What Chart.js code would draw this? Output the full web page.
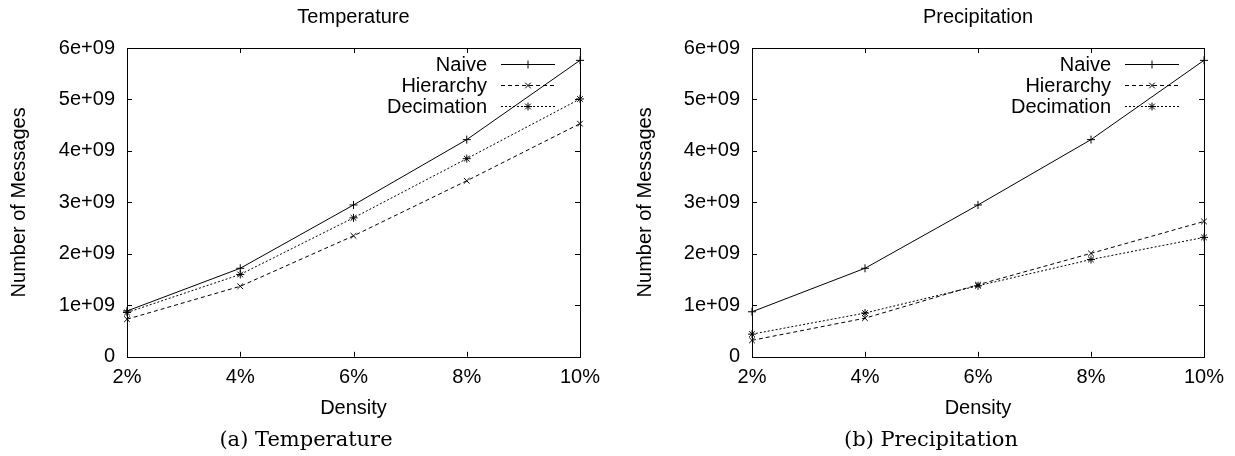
<!DOCTYPE html>
<html><head><meta charset="utf-8">
<script src="https://cdn.jsdelivr.net/npm/chart.js@4/dist/chart.umd.min.js"></script>
<style>
html,body{margin:0;padding:0;background:#fff;width:1235px;height:456px;overflow:hidden;}
canvas{position:absolute;top:0;}
</style></head>
<body>
<canvas id="c1" width="615" height="456" style="left:0px"></canvas>
<canvas id="c2" width="620" height="456" style="left:615px"></canvas>
<script>
const categories = ['2%', '4%', '6%', '8%', '10%'];
const seriesNames = ['Naive', 'Hierarchy', 'Decimation'];
const yTickLabels = ['0', '1e+09', '2e+09', '3e+09', '4e+09', '5e+09', '6e+09'];

const tempNaive      = [0.89e9, 1.72e9, 2.95e9, 4.22e9, 5.76e9];
const tempHierarchy  = [0.73e9, 1.37e9, 2.35e9, 3.42e9, 4.53e9];
const tempDecimation = [0.86e9, 1.60e9, 2.70e9, 3.85e9, 5.01e9];

const precNaive      = [0.875e9, 1.72e9, 2.95e9, 4.22e9, 5.76e9];
const precHierarchy  = [0.32e9, 0.75e9, 1.40e9, 2.01e9, 2.63e9];
const precDecimation = [0.44e9, 0.85e9, 1.38e9, 1.89e9, 2.32e9];

const SANS = '"Liberation Sans", Arial, Helvetica, sans-serif';
const SERIF = '"DejaVu Serif", "Liberation Serif", serif';
const FS = 20;
const styles = [
  {pointStyle: 'cross', dash: []},
  {pointStyle: 'crossRot', dash: [4, 3]},
  {pointStyle: 'star', dash: [2, 2]}
];

function drawMarker(ctx, style, x, y, r) {
  ctx.beginPath();
  if (style === 'cross' || style === 'star') {
    ctx.moveTo(x - r, y); ctx.lineTo(x + r, y);
    ctx.moveTo(x, y - r); ctx.lineTo(x, y + r);
  }
  if (style === 'crossRot' || style === 'star') {
    const d = r * Math.SQRT1_2;
    ctx.moveTo(x - d, y - d); ctx.lineTo(x + d, y + d);
    ctx.moveTo(x - d, y + d); ctx.lineTo(x + d, y - d);
  }
  ctx.stroke();
}

const framePlugin = {
  id: 'frame',
  beforeDatasetsDraw(chart) {
    const {ctx, chartArea: a, scales} = chart;
    ctx.save();
    ctx.strokeStyle = '#000';
    ctx.lineWidth = 1;
    ctx.setLineDash([]);
    ctx.strokeRect(Math.round(a.left) + 0.5, Math.round(a.top) + 0.5,
                   Math.round(a.right - a.left), Math.round(a.bottom - a.top));
    const tl = 5;
    ctx.beginPath();
    scales.y.ticks.forEach((t, i) => {
      const py = Math.round(scales.y.getPixelForTick(i)) + 0.5;
      ctx.moveTo(a.left, py); ctx.lineTo(a.left + tl, py);
      ctx.moveTo(a.right, py); ctx.lineTo(a.right - tl, py);
    });
    scales.x.ticks.forEach((t, i) => {
      const px = Math.round(scales.x.getPixelForTick(i)) + 0.5;
      ctx.moveTo(px, a.bottom); ctx.lineTo(px, a.bottom - tl);
      ctx.moveTo(px, a.top); ctx.lineTo(px, a.top + tl);
    });
    ctx.stroke();
    ctx.restore();
  }
};

const keyPlugin = {
  id: 'key',
  afterDraw(chart) {
    const {ctx, chartArea: a} = chart;
    ctx.save();
    ctx.font = FS + 'px ' + SANS;
    ctx.fillStyle = '#000';
    ctx.strokeStyle = '#000';
    ctx.lineWidth = 1;
    ctx.textAlign = 'right';
    ctx.textBaseline = 'middle';
    chart.data.datasets.forEach((ds, i) => {
      const y = Math.round(a.top + 16 + i * 21) + 0.5;
      ctx.fillText(ds.label, a.right - 93, y + 1);
      ctx.setLineDash(ds.borderDash || []);
      ctx.beginPath();
      ctx.moveTo(a.right - 79, y); ctx.lineTo(a.right - 25, y);
      ctx.stroke();
      ctx.setLineDash([]);
      drawMarker(ctx, ds.pointStyle, a.right - 52, y, 4);
    });
    ctx.restore();
  }
};

// re-centre the bottom caption box (subtitle) on a chosen x
const captionPlugin = {
  id: 'captionCentre',
  afterLayout(chart, args, opts) {
    chart.boxes.forEach(b => {
      if (b.options && b.options.position === 'bottom' && b.options.text === chart.options.plugins.subtitle.text && !b.axis) {
        const half = Math.min(opts.centre, chart.width - opts.centre);
        b.left = opts.centre - half;
        b.right = opts.centre + half;
        b.width = 2 * half;
      }
    });
  }
};

function makeChart(id, titleText, captionText, values, axisWidth, padRight, yTitlePad, captionCentre) {
  const datasets = values.map((v, i) => ({
    label: seriesNames[i],
    data: v,
    borderColor: '#000',
    backgroundColor: '#000',
    borderWidth: 1,
    borderDash: styles[i].dash,
    pointStyle: styles[i].pointStyle,
    pointRadius: 4,
    pointBorderWidth: 1,
    pointBorderColor: '#000',
    tension: 0,
    fill: false,
    clip: 10
  }));
  return new Chart(document.getElementById(id), {
    type: 'line',
    data: {labels: categories, datasets},
    options: {
      responsive: false,
      animation: false,
      devicePixelRatio: 1,
      layout: {padding: {left: 0, right: padRight, top: 0, bottom: 0}},
      plugins: {
        legend: {display: false},
        tooltip: {enabled: false},
        captionCentre: {centre: captionCentre},
        title: {
          display: true, text: titleText, fullSize: false, color: '#000',
          font: {family: SANS, size: FS, weight: 'normal', lineHeight: 1.2},
          padding: {top: 5, bottom: 19}
        },
        subtitle: {
          display: true, text: captionText, position: 'bottom', color: '#000',
          font: {family: SERIF, size: 21, weight: 'normal', lineHeight: 1.2},
          padding: {top: 0, bottom: 3}
        }
      },
      scales: {
        x: {
          type: 'category',
          offset: false,
          grid: {display: false, drawTicks: false},
          border: {display: false},
          ticks: {color: '#000', font: {family: SANS, size: FS}, padding: 9, maxRotation: 0, autoSkip: false},
          title: {display: true, text: 'Density', color: '#000',
                  font: {family: SANS, size: FS}, padding: {top: 0, bottom: 7}},
          afterFit(s) { s.height = 71; }
        },
        y: {
          min: 0, max: 6e9,
          grid: {display: false, drawTicks: false},
          border: {display: false},
          ticks: {
            stepSize: 1e9, color: '#000', font: {family: SANS, size: FS}, padding: 12,
            callback: (v) => yTickLabels[Math.round(v / 1e9)]
          },
          title: {display: true, text: 'Number of Messages', color: '#000',
                  font: {family: SANS, size: FS}, padding: {top: yTitlePad, bottom: 0}},
          afterFit(s) { s.width = axisWidth; }
        }
      }
    },
    plugins: [framePlugin, keyPlugin, captionPlugin]
  });
}

makeChart('c1', 'Temperature', '(a) Temperature', [tempNaive, tempHierarchy, tempDecimation], 127, 35, 7, 306);
makeChart('c2', 'Precipitation', '(b) Precipitation', [precNaive, precHierarchy, precDecimation], 137, 31, 18, 316);
</script>
</body></html>
